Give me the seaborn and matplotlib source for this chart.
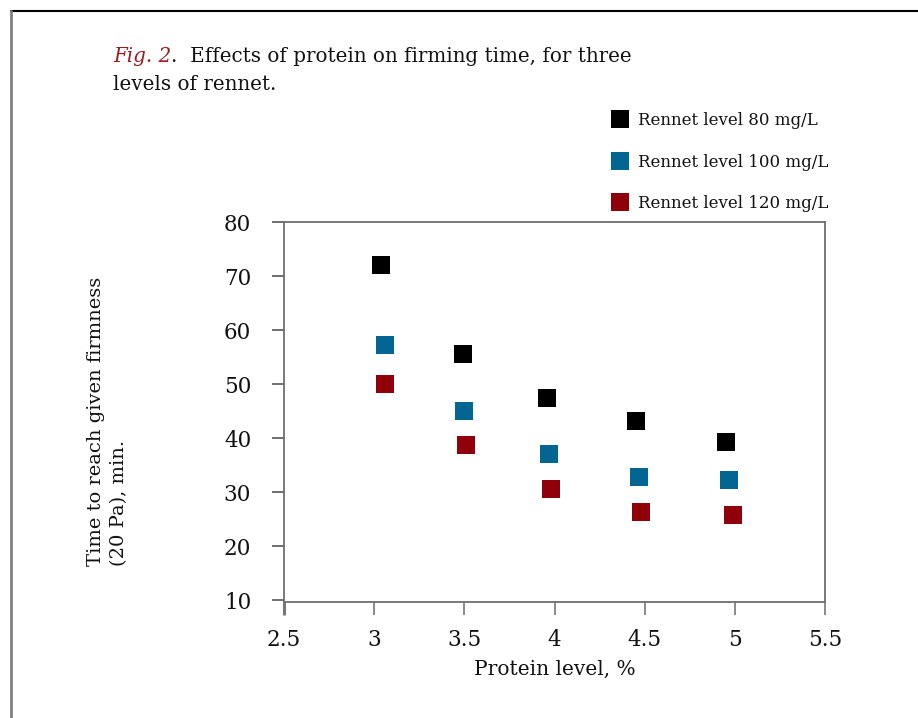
import pandas as pd
import seaborn as sns
import matplotlib.pyplot as plt
from matplotlib.lines import Line2D

# values
rennet_levels = ['Rennet level 80 mg/L', 'Rennet level 100 mg/L', 'Rennet level 120 mg/L']
protein_80 = [3.04, 3.49, 3.96, 4.45, 4.95]
time_80 = [72.1, 55.5, 47.4, 43.2, 39.3]
protein_100 = [3.06, 3.50, 3.97, 4.47, 4.97]
time_100 = [57.2, 45.0, 37.1, 32.8, 32.3]
protein_120 = [3.06, 3.51, 3.98, 4.48, 4.99]
time_120 = [50.0, 38.7, 30.6, 26.4, 25.8]
x_ticks = [2.5, 3, 3.5, 4, 4.5, 5, 5.5]
x_tick_labels = ['2.5', '3', '3.5', '4', '4.5', '5', '5.5']
y_ticks = [10, 20, 30, 40, 50, 60, 70, 80]

colors = ['#000000', '#036591', '#8f000a']


def build_frame():
    frames = []
    for level, xs, ys in zip(rennet_levels,
                             [protein_80, protein_100, protein_120],
                             [time_80, time_100, time_120]):
        frames.append(pd.DataFrame({'protein': xs, 'time': ys, 'rennet': level}))
    return pd.concat(frames, ignore_index=True)


def main():
    df = build_frame()

    sns.set_style('white')
    plt.rcParams['font.family'] = ['DejaVu Serif']
    plt.rcParams['text.color'] = '#111111'

    fig = plt.figure(figsize=(9.18, 7.18), dpi=100)
    ax = fig.add_axes([284 / 918, 1 - 602 / 718, (825 - 284) / 918, (602 - 222) / 718])

    sns.scatterplot(data=df, x='protein', y='time', hue='rennet', hue_order=rennet_levels,
                    palette=colors, marker='s', s=169, linewidth=0, legend=False, ax=ax)

    ax.set_xlim(2.5, 5.5)
    ax.set_ylim(9.7, 80.0)
    ax.set_xticks(x_ticks)
    ax.set_xticklabels(x_tick_labels)
    ax.set_yticks(y_ticks)

    for side in ['left', 'bottom', 'top', 'right']:
        ax.spines[side].set_color('#6e6e6e')
        ax.spines[side].set_linewidth(1.3)

    ax.tick_params(axis='y', direction='out', length=8.6, width=1.2, color='#555555',
                   labelsize=15.5, labelcolor='#111111', pad=15, left=True)
    ax.tick_params(axis='x', direction='out', length=9.5, width=1.2, color='#777777',
                   labelsize=15.5, labelcolor='#111111', pad=10, bottom=True)
    first = ax.xaxis.get_major_ticks()[0]
    first.tick1line.set_color('black')
    first.tick1line.set_markeredgewidth(2.2)

    ax.set_xlabel('Protein level, %', fontsize=14.5, labelpad=6, color='#111111')
    ax.set_ylabel('Time to reach given firmness\n(20 Pa), min.', fontsize=14,
                  multialignment='left', linespacing=1.35, color='#111111')
    ax.yaxis.set_label_coords(-0.288, 0.475)

    # legend above the plot area
    handles = [Line2D([], [], marker='s', linestyle='none', markersize=13,
                      markerfacecolor=c, markeredgewidth=0) for c in colors]
    fig.legend(handles, rennet_levels, loc='upper left',
               bbox_to_anchor=(611 / 918, 1 - 112 / 718), bbox_transform=fig.transFigure,
               frameon=False, fontsize=12, handlelength=1.1, handletextpad=0.55,
               labelspacing=1.48, borderpad=0, borderaxespad=0)

    # caption
    fig_lbl = fig.text(113 / 918, 1 - 62 / 718, 'Fig. 2', color='#9b1b1e', style='italic',
                       fontsize=14.3, va='baseline')
    ax.annotate('.  Effects of protein on firming time, for three', xy=(1, 0),
                xycoords=fig_lbl, va='bottom', ha='left', fontsize=14.3, color='#111111',
                annotation_clip=False)
    fig.text(113 / 918, 1 - 90 / 718, 'levels of rennet.', fontsize=14.3,
             color='#111111', va='baseline')

    # page border (top and left edges)
    fig.add_artist(Line2D([11 / 918, 1], [1 - 10.5 / 718] * 2, transform=fig.transFigure,
                          color='black', linewidth=1.5))
    fig.add_artist(Line2D([11 / 918] * 2, [0, 1 - 10.5 / 718], transform=fig.transFigure,
                          color='#808080', linewidth=2))

    fig.savefig('out.png', dpi=100)


if __name__ == '__main__':
    main()
